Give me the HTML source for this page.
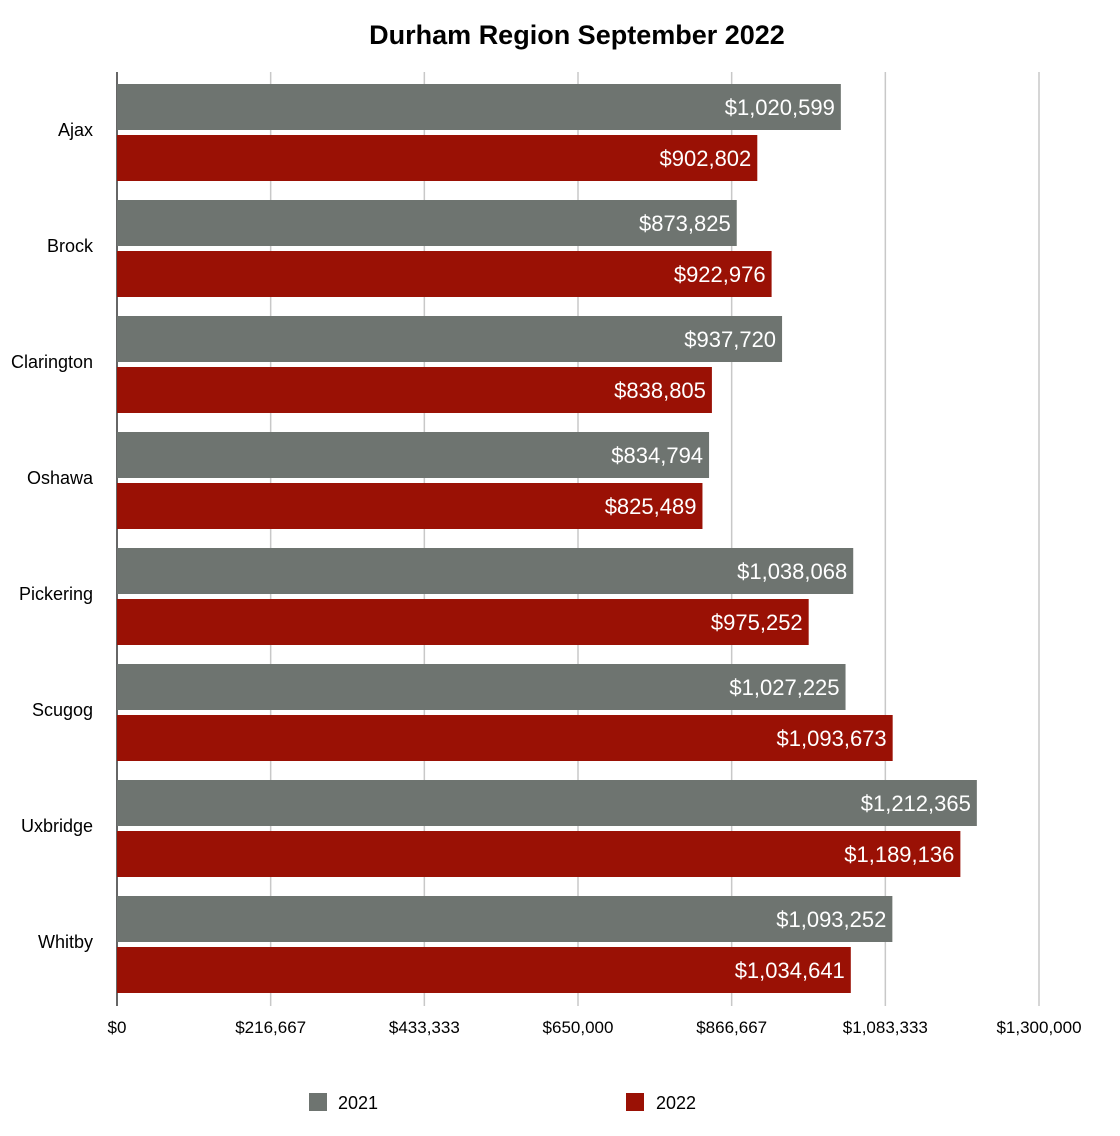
<!DOCTYPE html>
<html><head><meta charset="utf-8"><style>
html,body{margin:0;padding:0;background:#fff;}
svg{display:block;font-family:"Liberation Sans",Arial,sans-serif;}
</style></head><body>
<svg id="chart" width="1120" height="1136">
<text x="577" y="44" text-anchor="middle" font-size="27" font-weight="bold" fill="#000">Durham Region September 2022</text>
<g id="grid"></g><g id="bars"></g><g id="labels"></g>
<g>
<rect x="309" y="1093" width="18" height="18" fill="#6e7470"/>
<text x="338" y="1109" font-size="18">2021</text>
<rect x="626" y="1093" width="18" height="18" fill="#9a1105"/>
<text x="656" y="1109" font-size="18">2022</text>
</g>
</svg>
<script>
const categories=["Ajax","Brock","Clarington","Oshawa","Pickering","Scugog","Uxbridge","Whitby"];
const values2021=[1020599,873825,937720,834794,1038068,1027225,1212365,1093252];
const values2022=[902802,922976,838805,825489,975252,1093673,1189136,1034641];
const ticks=[0,216667,433333,650000,866667,1083333,1300000];
const tickLabels=["$0","$216,667","$433,333","$650,000","$866,667","$1,083,333","$1,300,000"];
const NS="http://www.w3.org/2000/svg";
const x0=117,x1=1039,yTop=72,yBot=1000,maxV=1300000;
const band=(yBot-yTop)/categories.length;
const xs=v=>x0+(v/maxV)*(x1-x0);
function mk(t,a,p){const e=document.createElementNS(NS,t);for(const k in a)e.setAttribute(k,a[k]);p.appendChild(e);return e;}
const g=document.getElementById("grid"),b=document.getElementById("bars"),l=document.getElementById("labels");
ticks.forEach((t,i)=>{
 const ln=mk("line",{x1:xs(t),x2:xs(t),y1:yTop,y2:yBot+6,stroke:i==0?"#333":"#c8c8c8","stroke-width":1.5},g);
 
 
 const tx=mk("text",{x:xs(t),y:1033,"text-anchor":"middle","font-size":17},g);
 tx.textContent=tickLabels[i];
 
 
});
const fmt=v=>"$"+v.toLocaleString("en-US");
categories.forEach((c,i)=>{
 const y=yTop+i*band;
 const ct=mk("text",{x:93,y:y+band/2+6,"text-anchor":"end","font-size":18},l);
 ct.textContent=c;
 
 
 [[values2021[i],"#6e7470",12],[values2022[i],"#9a1105",63]].forEach(([v,col,off])=>{
  const r=mk("rect",{x:x0,y:y+off,width:xs(v)-x0,height:46,fill:col},b);
  
  
  const t=mk("text",{x:xs(v)-6,y:y+off+31,"text-anchor":"end","font-size":22,fill:"#fff"},l);
  t.textContent=fmt(v);
  
  
 });
});
</script>
</body></html>
